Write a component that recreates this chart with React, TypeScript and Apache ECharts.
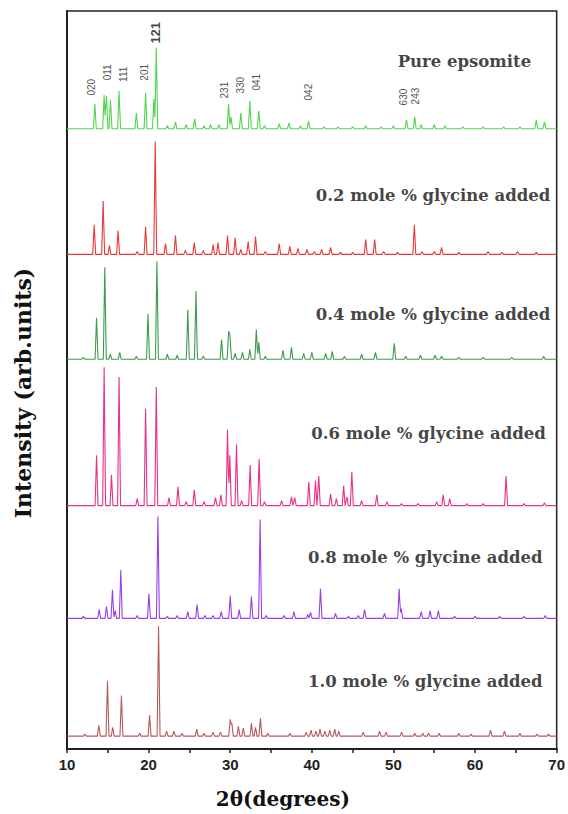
import React, { useEffect, useRef } from "react";
import * as echarts from "echarts";

// sample names (top to bottom)
const sampleNames = [
  "Pure epsomite",
  "0.2 mole % glycine added",
  "0.4 mole % glycine added",
  "0.6 mole % glycine added",
  "0.8 mole % glycine added",
  "1.0 mole % glycine added",
];
const sampleColors = ["#4fd64f", "#e63a3a", "#3c9c4a", "#e8318a", "#9a3ee6", "#b35a5c"];
// vertical offset (baseline) of each pattern, in intensity units
const baselines = [627, 500, 394, 246, 132, 13];

// peak lists: [2θ (deg), intensity above baseline]
const purePeaks = [
  [13.41, 25], [14.55, 34], [14.84, 33], [15.33, 29], [16.38, 38], [18.5, 16], [19.63, 36],
  [20.65, 30], [20.94, 82], [22.3, 3], [23.3, 7], [24.6, 4], [25.65, 10], [26.8, 3], [27.6, 4],
  [28.6, 4], [29.8, 25], [30.1, 12], [31.3, 16], [32.4, 28], [33.5, 18], [34.2, 3], [36.0, 5],
  [37.2, 6], [38.6, 3], [39.6, 8], [41.5, 2], [43.2, 2], [45.0, 2], [46.6, 3], [48.5, 2],
  [50.0, 3], [51.6, 9], [52.6, 12], [53.4, 4], [55.0, 4], [56.3, 3], [58.5, 2], [61.0, 2],
  [63.5, 2], [65.5, 2], [67.5, 9], [68.5, 7],
];
const p02Peaks = [
  [13.33, 30], [14.43, 54], [15.2, 9], [16.26, 24], [18.6, 3], [19.63, 28], [20.81, 114],
  [22.07, 11], [23.29, 19], [24.5, 4], [25.6, 12], [26.7, 4], [27.9, 10], [28.5, 12],
  [29.67, 19], [30.6, 17], [31.3, 5], [32.2, 13], [33.1, 18], [34.3, 3], [36.0, 11], [37.3, 8],
  [38.3, 6], [39.4, 5], [40.3, 3], [41.2, 5], [42.3, 7], [43.5, 2], [45.0, 2], [46.6, 15],
  [47.7, 15], [48.8, 3], [50.5, 2], [52.56, 30], [53.5, 3], [55.0, 3], [55.9, 7], [58.0, 2],
  [61.6, 3], [63.3, 2], [65.2, 3], [67.5, 2],
];
const p04Peaks = [
  [12.0, 2], [13.62, 42], [14.63, 93], [15.3, 5], [16.46, 7], [18.5, 3], [19.92, 46], [21.02, 99],
  [22.3, 5], [23.5, 4], [24.8, 50], [25.8, 69], [26.7, 3], [28.94, 20], [29.8, 27], [29.97, 23],
  [30.6, 6], [31.5, 7], [32.4, 10], [33.2, 30], [33.5, 17], [34.3, 3], [36.46, 9], [37.5, 12],
  [39.0, 6], [40.0, 7], [41.7, 6], [42.5, 8], [44.0, 3], [46.1, 5], [47.8, 7], [50.1, 16],
  [51.5, 3], [53.3, 4], [55.1, 4], [55.9, 3], [58.0, 2], [61.0, 2], [64.5, 2], [68.4, 3],
];
const p06Peaks = [
  [13.62, 51], [14.55, 140], [15.45, 31], [16.38, 130], [18.6, 7], [19.63, 98], [20.94, 120],
  [22.5, 8], [23.6, 19], [24.6, 4], [25.6, 16], [26.8, 4], [28.2, 8], [28.86, 11], [29.67, 77],
  [29.95, 51], [30.77, 62], [31.4, 5], [32.44, 41], [33.54, 47], [34.2, 4], [36.3, 5],
  [37.5, 9], [37.9, 8], [39.63, 24], [40.45, 25], [40.85, 30], [42.3, 12], [43.0, 7],
  [43.9, 20], [44.3, 9], [44.9, 34], [46.1, 5], [47.96, 11], [49.2, 4], [51.0, 2], [53.0, 2],
  [55.3, 4], [56.1, 11], [56.9, 7], [59.0, 2], [61.0, 2], [63.8, 30], [66.0, 2], [68.5, 3],
];
const p08Peaks = [
  [12.0, 2], [13.94, 9], [14.84, 12], [15.57, 29], [15.9, 8], [16.59, 49], [18.6, 3],
  [20.04, 25], [21.14, 103], [22.3, 2], [23.5, 3], [24.8, 7], [25.94, 14], [26.9, 3],
  [27.9, 3], [28.9, 7], [30.0, 23], [31.1, 9], [32.6, 22], [33.66, 100], [34.4, 3], [36.6, 3],
  [37.8, 7], [39.5, 4], [39.84, 6], [41.06, 30], [42.9, 5], [44.5, 2], [45.7, 3], [46.46, 9],
  [48.9, 5], [50.7, 30], [50.95, 10], [53.4, 7], [54.5, 8], [55.5, 8], [57.5, 2], [60.0, 2],
  [63.0, 2], [66.0, 2], [68.6, 3],
];
const p10Peaks = [
  [12.2, 2], [13.9, 11], [14.96, 56], [15.6, 9], [16.67, 41], [18.9, 3], [20.12, 21],
  [21.22, 111], [22.2, 5], [23.1, 5], [24.1, 3], [25.9, 7], [26.8, 3], [27.9, 4], [28.8, 4],
  [30.0, 17], [30.2, 13], [31.0, 10], [31.6, 8], [32.6, 13], [33.1, 9], [33.7, 18], [34.6, 3],
  [37.3, 3], [39.3, 4], [39.9, 6], [40.5, 5], [41.0, 7], [41.6, 5], [42.2, 6], [42.8, 7],
  [43.3, 5], [46.3, 4], [48.3, 5], [49.1, 4], [51.0, 4], [52.6, 3], [53.6, 3], [54.3, 3],
  [55.6, 3], [58.0, 3], [59.5, 2], [61.9, 6], [63.6, 5], [65.5, 3], [67.6, 2], [69.0, 2],
];
const allPeaks = [purePeaks, p02Peaks, p04Peaks, p06Peaks, p08Peaks, p10Peaks];

// Miller index annotations on the pure epsomite pattern: [2θ, intensity position, label]
const hklLabels = [
  [13.0, 669, "020"], [14.96, 684, "011"], [16.87, 682, "111"], [19.51, 684, "201"],
  [29.35, 666, "231"], [31.3, 671, "330"], [33.26, 674, "041"], [39.63, 664, "042"],
  [51.2, 659, "630"], [52.65, 660, "243"],
];
const hklMain = [[20.85, 724, "121"]];

// sample name label positions: [2θ of text centre, intensity]
const namePos = [
  [58.7, 695], [54.85, 559], [54.85, 439], [54.3, 319], [53.9, 194], [53.9, 68],
];

const X_MIN = 10;
const X_MAX = 70;
const HALF_WIDTH = 0.18;

function buildProfile(peaks: number[][], base: number) {
  const knots = new Set<number>([X_MIN, X_MAX]);
  peaks.forEach(([p]) => {
    knots.add(+(p - HALF_WIDTH).toFixed(3));
    knots.add(p);
    knots.add(+(p + HALF_WIDTH).toFixed(3));
  });
  const xs = Array.from(knots).sort((a, b) => a - b);
  return xs.map((x) => {
    let y = base;
    peaks.forEach(([p, h]) => {
      const d = Math.abs(x - p);
      if (d < HALF_WIDTH) y += h * (1 - d / HALF_WIDTH);
    });
    return [x, y];
  });
}

export default function App() {
  const ref = useRef<HTMLDivElement>(null);
  useEffect(() => {
    if (!ref.current) return;
    const chart = echarts.init(ref.current, null, { renderer: "svg" });
    const lineSeries = allPeaks.map((pk, i) => ({
      type: "line",
      name: sampleNames[i],
      data: buildProfile(pk, baselines[i]),
      showSymbol: false,
      symbol: "none",
      lineStyle: { color: sampleColors[i], width: 1.1 },
      silent: true,
    }));
    const serif = "'DejaVu Serif', 'Liberation Serif', serif";
    chart.setOption({
      animation: false,
      backgroundColor: "#ffffff",
      grid: {
        left: 67,
        top: 11,
        width: 492,
        height: 746,
        show: true,
        borderColor: "#222",
        borderWidth: 1.5,
        backgroundColor: "transparent",
      },
      xAxis: {
        type: "value",
        min: X_MIN,
        max: X_MAX,
        interval: 5,
        axisLine: { show: true, lineStyle: { color: "#222", width: 2 } },
        axisTick: { show: true, inside: false, length: 4, lineStyle: { color: "#222", width: 1.5 } },
        splitLine: { show: false },
        axisLabel: {
          formatter: (v: number) => (v % 10 === 0 ? String(v) : ""),
          color: "#222",
          fontSize: 15,
          fontWeight: "bold",
          fontFamily: "'Liberation Sans', Arial, sans-serif",
          margin: 8,
        },
        name: "2θ(degrees)",
        nameLocation: "middle",
        nameGap: 40,
        nameTextStyle: {
          color: "#111",
          fontSize: 20,
          fontWeight: "bold",
          fontFamily: serif,
          padding: [0, 58, 0, 0],
        },
      },
      yAxis: {
        type: "value",
        min: 0,
        max: 746,
        axisLine: { show: true, lineStyle: { color: "#222", width: 2 } },
        axisTick: { show: false },
        axisLabel: { show: false },
        splitLine: { show: false },
        name: "Intensity (arb.units)",
        nameLocation: "middle",
        nameGap: 33,
        nameTextStyle: {
          color: "#111",
          fontSize: 22,
          fontWeight: "bold",
          fontFamily: serif,
          padding: [0, 26, 0, 0],
        },
      },
      series: [
        ...lineSeries,
        {
          type: "scatter",
          symbolSize: 0,
          silent: true,
          data: hklLabels.map(([x, y, t]) => ({ value: [x, y], name: t })),
          label: {
            show: true,
            position: "inside",
            rotate: 90,
            formatter: (p: any) => p.name,
            fontSize: 10,
            color: "#222",
            fontFamily: "'Liberation Sans', Arial, sans-serif",
          },
        },
        {
          type: "scatter",
          symbolSize: 0,
          silent: true,
          data: hklMain.map(([x, y, t]) => ({ value: [x, y], name: t })),
          label: {
            show: true,
            position: "inside",
            rotate: 90,
            formatter: (p: any) => p.name,
            fontSize: 13,
            fontWeight: "bold",
            color: "#111",
            fontFamily: "'Liberation Sans', Arial, sans-serif",
          },
        },
        {
          type: "scatter",
          symbolSize: 0,
          silent: true,
          data: namePos.map(([x, y], i) => ({ value: [x, y], name: sampleNames[i] })),
          label: {
            show: true,
            position: "inside",
            formatter: (p: any) => p.name,
            fontSize: 16.5,
            fontWeight: "bold",
            color: "#111",
            fontFamily: serif,
          },
        },
      ],
    });
    return () => chart.dispose();
  }, []);
  return (
    <div
      ref={ref}
      style={{ position: "absolute", left: 0, top: 0, width: 568, height: 814 }}
    />
  );
}
